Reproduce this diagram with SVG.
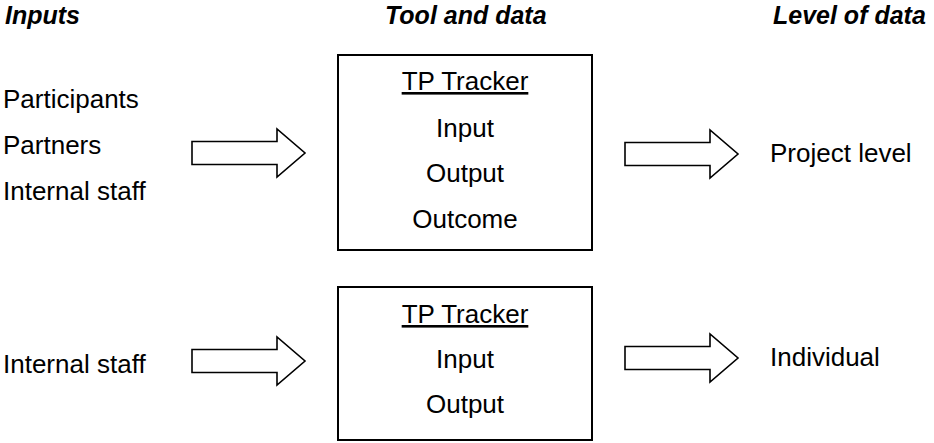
<svg xmlns="http://www.w3.org/2000/svg" width="934" height="443" viewBox="0 0 934 443">
  <style>
    text { font-family: "Liberation Sans", Arial, sans-serif; font-size: 26px; fill: #000; }
    .head { font-weight: bold; font-style: italic; font-size: 25px; }
    .mid { text-anchor: middle; }
    .ul { text-decoration: underline; }
    .box { fill: #fff; stroke: #000; stroke-width: 2; }
    .arrow { fill: #fff; stroke: #000; stroke-width: 1.6; stroke-linejoin: miter; }
  </style>
  <defs>
    <!-- block arrow pointing right, origin at left edge / vertical centre -->
    <path id="blockArrow" class="arrow" d="M0,-11.5 H85 V-24 L113,0 L85,24 V11.5 H0 Z"/>
  </defs>

  <!-- column headings -->
  <g id="headings">
    <text class="head" x="5" y="24">Inputs</text>
    <text class="head" x="385" y="24">Tool and data</text>
    <text class="head" x="773" y="24">Level of data</text>
  </g>

  <!-- top row -->
  <g id="inputs-top">
    <text x="3" y="108">Participants</text>
    <text x="3" y="154">Partners</text>
    <text x="3" y="200">Internal staff</text>
  </g>
  <g id="tracker-top">
    <rect class="box" x="338" y="55" width="254" height="195"/>
    <text class="mid ul" x="465" y="90">TP Tracker</text>
    <text class="mid" x="465" y="137">Input</text>
    <text class="mid" x="465" y="182">Output</text>
    <text class="mid" x="465" y="228">Outcome</text>
  </g>
  <g id="level-top">
    <text x="770" y="162">Project level</text>
  </g>

  <!-- bottom row -->
  <g id="inputs-bottom">
    <text x="3" y="373">Internal staff</text>
  </g>
  <g id="tracker-bottom">
    <rect class="box" x="338" y="287" width="254" height="153"/>
    <text class="mid ul" x="465" y="323">TP Tracker</text>
    <text class="mid" x="465" y="368">Input</text>
    <text class="mid" x="465" y="413">Output</text>
  </g>
  <g id="level-bottom">
    <text x="770" y="366">Individual</text>
  </g>

  <!-- connectors -->
  <g id="connectors">
    <use href="#blockArrow" x="192" y="153"/>
    <use href="#blockArrow" x="625" y="154"/>
    <use href="#blockArrow" x="192" y="361"/>
    <use href="#blockArrow" x="625" y="358"/>
  </g>
</svg>
